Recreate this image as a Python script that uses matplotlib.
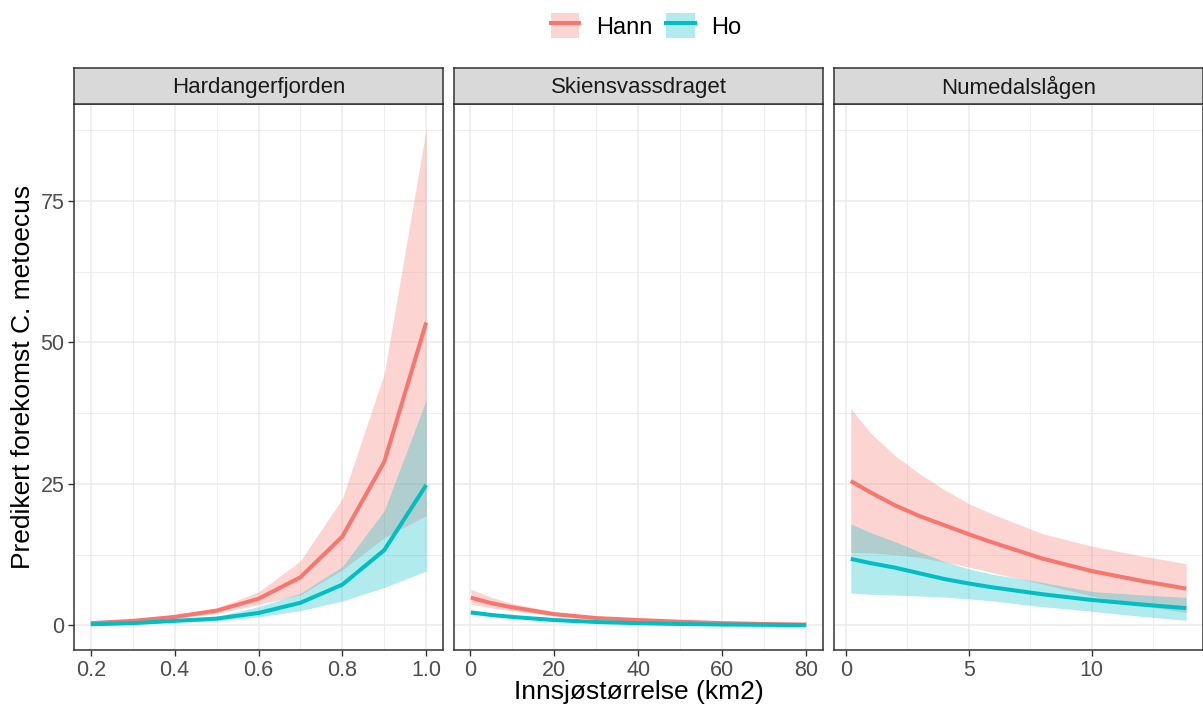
import numpy as np
import matplotlib
matplotlib.use('Agg')
import matplotlib.pyplot as plt
from matplotlib.patches import Patch
from matplotlib.lines import Line2D

plt.rcParams['font.family'] = ['Liberation Sans', 'DejaVu Sans']

# ---- data ----
panels = ['Hardangerfjorden', 'Skiensvassdraget', 'Numedalslågen']
groups = ['Hann', 'Ho']

# Hardangerfjorden
x_hard = [0.2, 0.3, 0.4, 0.5, 0.6, 0.7, 0.8, 0.9, 1.0]
hann_hard = [0.4, 0.8, 1.5, 2.6, 4.7, 8.5, 15.7, 28.9, 53.5]
hann_hard_hi = [0.5, 1.0, 1.9, 3.1, 5.9, 11.4, 22.4, 44.5, 87.7]
hann_hard_lo = [0.3, 0.6, 1.2, 2.1, 3.7, 5.4, 9.8, 15.5, 19.4]
ho_hard = [0.2, 0.4, 0.8, 1.2, 2.2, 4.0, 7.2, 13.3, 24.8]
ho_hard_hi = [0.3, 0.5, 1.0, 1.6, 3.3, 5.7, 10.4, 20.3, 39.8]
ho_hard_lo = [0.1, 0.3, 0.6, 0.8, 1.5, 2.6, 4.3, 6.7, 9.6]

# Skiensvassdraget
x_skien = [0.2, 5, 10, 20, 30, 40, 50, 60, 70, 80]
hann_skien = [4.9, 3.95, 3.2, 2.0, 1.3, 0.95, 0.65, 0.4, 0.25, 0.15]
hann_skien_hi = [6.4, 5.0, 3.9, 2.4, 1.5, 1.1, 0.75, 0.5, 0.32, 0.2]
hann_skien_lo = [3.75, 3.1, 2.6, 1.65, 1.1, 0.8, 0.55, 0.33, 0.2, 0.12]
ho_skien = [2.3, 1.85, 1.5, 0.95, 0.6, 0.4, 0.25, 0.15, 0.1, 0.05]
ho_skien_hi = [2.7, 2.2, 1.75, 1.1, 0.7, 0.48, 0.3, 0.2, 0.12, 0.08]
ho_skien_lo = [1.95, 1.6, 1.3, 0.8, 0.5, 0.33, 0.2, 0.12, 0.07, 0.04]

# Numedalslågen
x_numed = [0.2, 1, 2, 3, 4, 5, 6, 8, 10, 12, 13.85]
hann_numed = [25.5, 23.5, 21.2, 19.3, 17.7, 16.1, 14.6, 11.8, 9.6, 7.9, 6.5]
hann_numed_hi = [38.3, 34.0, 30.0, 26.8, 24.0, 21.5, 19.6, 16.2, 14.0, 12.3, 10.9]
hann_numed_lo = [12.9, 12.8, 12.5, 12.0, 11.2, 10.3, 9.3, 7.3, 5.2, 3.5, 2.3]
ho_numed = [11.75, 11.0, 10.2, 9.2, 8.2, 7.4, 6.7, 5.5, 4.5, 3.7, 3.05]
ho_numed_hi = [17.95, 16.4, 14.8, 13.0, 11.3, 10.0, 9.0, 7.6, 6.0, 5.4, 4.95]
ho_numed_lo = [5.7, 5.5, 5.35, 5.2, 5.0, 4.7, 4.3, 3.3, 2.5, 1.6, 0.9]

x_major = [[0.2, 0.4, 0.6, 0.8, 1.0], [0, 20, 40, 60, 80], [0, 5, 10]]
x_labels = [['0.2', '0.4', '0.6', '0.8', '1.0'], ['0', '20', '40', '60', '80'], ['0', '5', '10']]
y_major = [0, 25, 50, 75]

panel_data = [
    (x_hard, hann_hard, hann_hard_lo, hann_hard_hi, ho_hard, ho_hard_lo, ho_hard_hi),
    (x_skien, hann_skien, hann_skien_lo, hann_skien_hi, ho_skien, ho_skien_lo, ho_skien_hi),
    (x_numed, hann_numed, hann_numed_lo, hann_numed_hi, ho_numed, ho_numed_lo, ho_numed_hi),
]

# ---- style ----
RED = '#F8766D'
TEAL = '#00BFC4'
GRID = '#EBEBEB'
BORDER = '#333333'
TICKTXT = '#4D4D4D'

W, H = 1203, 711
fig = plt.figure(figsize=(W / 100, H / 100), dpi=100)

# shared y range (ggplot 5% expansion)
all_lo = min(min(p[2] + p[5]) for p in panel_data)
all_hi = max(max(p[3] + p[6]) for p in panel_data)
pad = 0.05 * (all_hi - all_lo)
ylim = (all_lo - pad, all_hi + pad)

lefts = [74, 454, 834]
pw = 369
top_px, bot_px = 104, 650
strip_h = 36

for i, (name, d) in enumerate(zip(panels, panel_data)):
    x, hann, hann_lo, hann_hi, ho, ho_lo, ho_hi = d
    ax = fig.add_axes([lefts[i] / W, 1 - bot_px / H, pw / W, (bot_px - top_px) / H])

    # x range with 5% expansion
    xr = max(x) - min(x)
    ax.set_xlim(min(x) - 0.05 * xr, max(x) + 0.05 * xr)
    ax.set_ylim(*ylim)

    # grid: major + minor halfway
    xm = x_major[i]
    step = xm[1] - xm[0]
    x_minor = [v + step / 2 for v in [xm[0] - step] + xm]
    y_minor = [v + 12.5 for v in [-25] + y_major]
    for v in x_minor:
        ax.axvline(v, color=GRID, lw=0.6, zorder=0)
    for v in y_minor:
        ax.axhline(v, color=GRID, lw=0.6, zorder=0)
    for v in xm:
        ax.axvline(v, color=GRID, lw=1.1, zorder=0)
    for v in y_major:
        ax.axhline(v, color=GRID, lw=1.1, zorder=0)

    # ribbons then lines
    ax.fill_between(x, hann_lo, hann_hi, color=RED, alpha=0.3, lw=0, zorder=1)
    ax.fill_between(x, ho_lo, ho_hi, color=TEAL, alpha=0.3, lw=0, zorder=1)
    ax.plot(x, hann, color=RED, lw=2.9, zorder=2, solid_capstyle='butt')
    ax.plot(x, ho, color=TEAL, lw=2.9, zorder=2, solid_capstyle='butt')

    ax.set_xticks(xm)
    ax.set_xticklabels(x_labels[i])
    if i == 0:
        ax.set_yticks(y_major)
        ax.set_yticklabels([str(v) for v in y_major])
    else:
        ax.set_yticks([])
    ax.tick_params(axis='both', colors=BORDER, labelcolor=TICKTXT, labelsize=15.5,
                   length=4, width=1.0, pad=3)
    for s in ax.spines.values():
        s.set_color(BORDER)
        s.set_linewidth(1.1)

    # facet strip
    sax = fig.add_axes([lefts[i] / W, 1 - top_px / H, pw / W, strip_h / H])
    sax.set_facecolor('#D9D9D9')
    sax.set_xticks([])
    sax.set_yticks([])
    for s in sax.spines.values():
        s.set_color(BORDER)
        s.set_linewidth(1.1)
    sax.text(0.5, 0.47, name, ha='center', va='center', fontsize=16,
             color='#1A1A1A', transform=sax.transAxes)

# axis titles
fig.text((lefts[0] + lefts[2] + pw) / 2 / W, 1 - 692 / H, 'Innsjøstørrelse (km2)',
         ha='center', va='center', fontsize=19)
fig.text(23 / W, 1 - (top_px + bot_px) / 2 / H, 'Predikert forekomst C. metoecus',
         ha='center', va='center', rotation=90, fontsize=19)

# legend on top
handles = [
    (Patch(facecolor=RED, alpha=0.3, lw=0), Line2D([], [], color=RED, lw=2.9)),
    (Patch(facecolor=TEAL, alpha=0.3, lw=0), Line2D([], [], color=TEAL, lw=2.9)),
]
fig.legend(handles, groups, loc='center', bbox_to_anchor=(646 / W, 1 - 26 / H), ncol=2,
           frameon=False, fontsize=17, handlelength=1.2, handleheight=1.2,
           handletextpad=0.7, columnspacing=0.6)

plt.savefig('out.png', dpi=100)
plt.close()
